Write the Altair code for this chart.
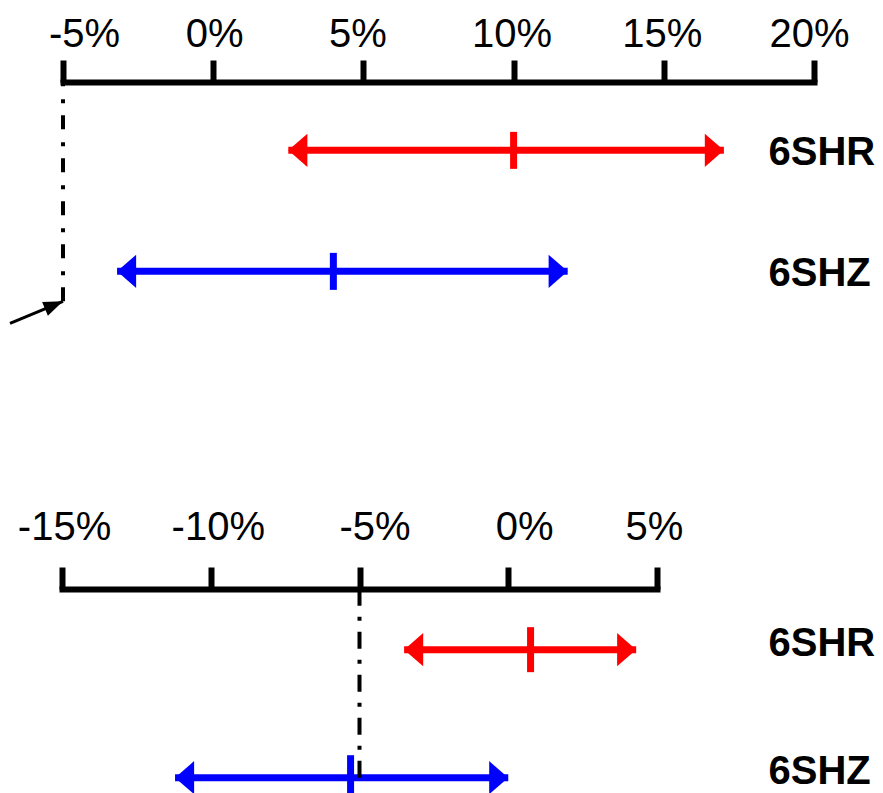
import altair as alt
import pandas as pd

# ---------------- data ----------------
series = ["6SHR", "6SHZ"]
colors = ["#ff0000", "#0000ff"]

top_low = [2.5, -3.2]
top_mid = [10.0, 4.0]
top_high = [17.0, 11.8]
top_ticks = [-5, 0, 5, 10, 15, 20]
top_ref = -5

bottom_low = [-3.5, -11.2]
bottom_mid = [0.75, -5.3]
bottom_high = [4.3, 0.0]
bottom_ticks = [-15, -10, -5, 0, 5]
bottom_ref = -5

# horizontal nudges of the tick labels (pixels), as placed in the original figure
top_label_nudge = [21, 1, -6, -2, -2, -5]
bottom_label_nudge = [2, 7, 15, 16, -3]

FONT = "Liberation Sans"
PLOT_W = 758

LEFT_HEAD = "M0,0L1.15,-1L1.15,1Z"
RIGHT_HEAD = "M0,0L-1.15,-1L-1.15,1Z"
ARROW_HEAD = "M0,0L-1.3,-0.5L-1.3,0.5Z"


def panel(low, mid, high, ticks, nudge, ref, x_range, height, pad, align,
          label_pad, label_offset, tick_len, dash, ref_offset, arrow):
    df = pd.DataFrame({"series": series, "low": low, "mid": mid, "high": high})
    ref_df = pd.DataFrame({"series": [series[-1]], "ref": [ref]})

    offset_cond = {
        "condition": [{"test": f"datum.value == {t}", "value": n} for t, n in zip(ticks, nudge)],
        "value": 0,
    }
    xscale = alt.Scale(domain=[ticks[0], ticks[-1]], range=x_range, nice=False, zero=False)
    xaxis = alt.Axis(
        orient="top", values=ticks, labelExpr="datum.value + '%'",
        labelFont=FONT, labelFontSize=40, labelColor="black",
        labelFlush=False, labelOverlap=False, labelPadding=label_pad,
        labelOffset=offset_cond,
        domainColor="black", domainWidth=6, domainCap="square",
        tickColor="black", tickWidth=6, tickSize=22, grid=False, title=None,
    )
    yscale = alt.Scale(type="point", domain=series, padding=pad, align=align)
    yaxis = alt.Axis(
        orient="right", domain=False, ticks=False, grid=False, title=None,
        labelFont=FONT, labelFontSize=40, labelFontWeight="bold", labelColor="black",
        labelAlign="left", labelBaseline="middle", labelPadding=0,
        labelOffset=label_offset,
    )
    y = alt.Y("series:N", scale=yscale, axis=yaxis, title=None)
    color = alt.Color("series:N", scale=alt.Scale(domain=series, range=colors), legend=None)

    def X(field):
        return alt.X(field, type="quantitative", scale=xscale, axis=xaxis, title=None)

    base = alt.Chart(df)
    bars = base.mark_rule(strokeWidth=7).encode(x=X("low"), x2="high", y=y, color=color)
    mids = base.mark_tick(thickness=7, size=tick_len, opacity=1).encode(x=X("mid"), y=y, color=color)
    lh = base.mark_point(shape=LEFT_HEAD, size=1100, filled=True, opacity=1, strokeWidth=0).encode(
        x=X("low"), y=y, color=color)
    rh = base.mark_point(shape=RIGHT_HEAD, size=1100, filled=True, opacity=1, strokeWidth=0).encode(
        x=X("high"), y=y, color=color)
    refline = alt.Chart(ref_df).mark_rule(
        strokeWidth=4, color="black", strokeDash=dash, yOffset=ref_offset
    ).encode(x=X("ref"), y=y, y2=alt.value(0))

    layers = [bars, mids, lh, rh, refline]
    if arrow:
        arr = alt.Chart(ref_df).mark_rule(
            strokeWidth=3, color="black", yOffset=30, y2Offset=52
        ).encode(x=X("ref"), x2=alt.value(0), y=y, y2=alt.Y2("series"))
        head = alt.Chart(ref_df).mark_point(
            shape=ARROW_HEAD, size=900, filled=True, opacity=1, strokeWidth=0,
            color="black", angle=337.4, yOffset=30,
        ).encode(x=X("ref"), y=y)
        layers += [arr, head]
    return alt.layer(*layers).properties(width=PLOT_W, height=height)


top = panel(top_low, top_mid, top_high, top_ticks, top_label_nudge, top_ref,
            x_range=[53, 804], height=250, pad=0.533, align=0.53,
            label_pad=6, label_offset=2, tick_len=37, dash=[14, 12, 4, 13],
            ref_offset=30, arrow=True)
bottom = panel(bottom_low, bottom_mid, bottom_high, bottom_ticks, bottom_label_nudge, bottom_ref,
               x_range=[52, 647], height=200, pad=0.281, align=0.843,
               label_pad=20, label_offset=-6, tick_len=45, dash=[17, 11, 4, 11],
               ref_offset=0, arrow=False)

chart = alt.vconcat(top, bottom, spacing=257, bounds="flush").properties(
    padding={"left": 0, "top": 6, "right": 0, "bottom": 0},
    background="white",
).configure_view(stroke=None)

chart.save("out.html", embed_options={"renderer": "svg", "actions": False})
